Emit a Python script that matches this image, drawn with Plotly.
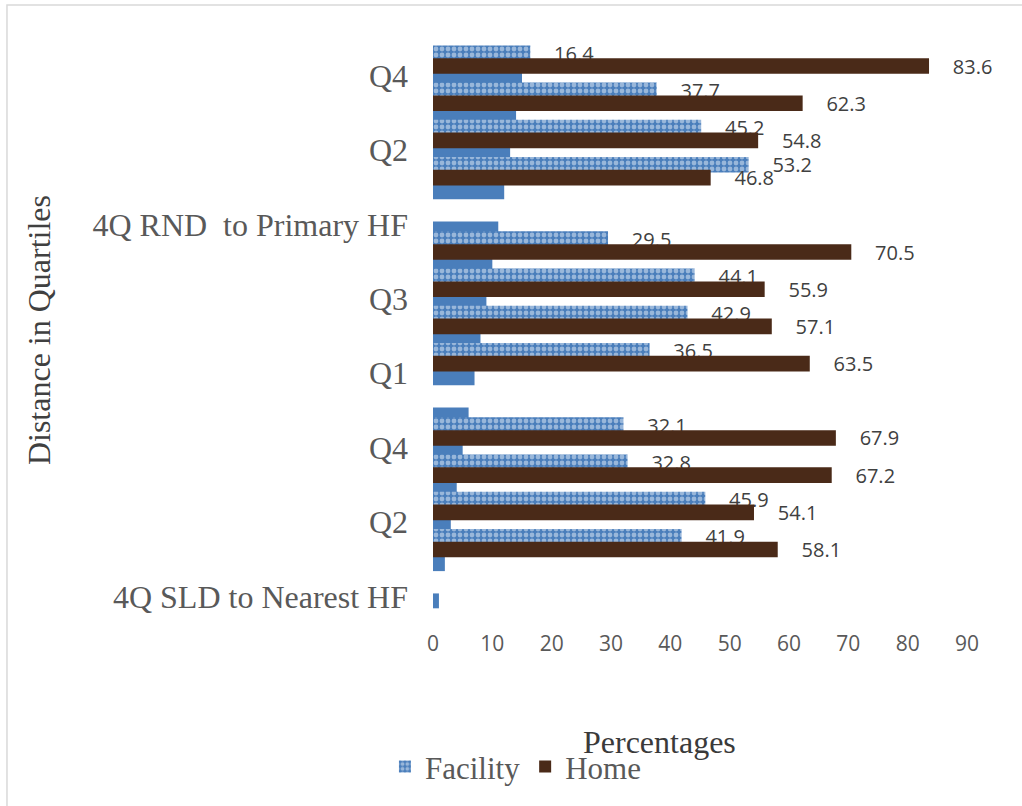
import plotly.graph_objects as go

# Categories from bottom to top; two header rows introduce each block of quartiles
categories = [
    "4Q SLD to Nearest HF", "Q1", "Q2", "Q3", "Q4",
    "4Q SLD to Primary HF", "Q1", "Q2", "Q3", "Q4",
    "4Q RND  to Primary HF", "Q1", "Q2", "Q3", "Q4",
]
facility = [None, 41.9, 45.9, 32.8, 32.1,
            None, 36.5, 42.9, 44.1, 29.5,
            None, 53.2, 45.2, 37.7, 16.4]
home = [None, 58.1, 54.1, 67.2, 67.9,
        None, 63.5, 57.1, 55.9, 70.5,
        None, 46.8, 54.8, 62.3, 83.6]
row_number = [1, 2, 3, 4, 5, 6, 7, 8, 9, 10, 11, 12, 13, 14, 15]
x_ticks = [0, 10, 20, 30, 40, 50, 60, 70, 80, 90]

positions = list(range(len(categories)))
shown_ticks = positions[::2]

SERIF = "Liberation Serif"
SANS = "Open Sans"
PAD = "\u00a0" * 4


def labels(values):
    return ["" if v is None else f"{PAD}{v:.1f}" for v in values]


fig = go.Figure()

fig.add_trace(go.Bar(
    y=positions, x=row_number, orientation="h",
    width=0.4, offset=-0.59,
    marker=dict(color="#4a7ebb", line=dict(width=0)),
    showlegend=False, hoverinfo="skip",
))

fig.add_trace(go.Bar(
    name="Facility", y=positions, x=facility, orientation="h",
    width=0.42, offset=0.125,
    marker=dict(
        color="#4f81bd",
        line=dict(width=0),
        pattern=dict(shape=".", bgcolor="#4a7ebb", fgcolor="#e8eff9",
                     size=6, solidity=0.5),
    ),
    text=labels(facility), textposition="outside", constraintext="none",
    textfont=dict(family=SANS, size=20, color="#404040"),
    cliponaxis=False, legendrank=1,
))

fig.add_trace(go.Bar(
    name="Home", y=positions, x=home, orientation="h",
    width=0.42, offset=-0.22,
    marker=dict(color="#4a2a18", line=dict(width=0)),
    text=labels(home), textposition="outside", constraintext="none",
    textfont=dict(family=SANS, size=20, color="#404040"),
    cliponaxis=False, legendrank=2,
))

fig.update_layout(
    width=1022, height=806,
    margin=dict(l=433, r=55, t=40, b=191),
    barmode="overlay",
    paper_bgcolor="white", plot_bgcolor="white",
    showlegend=True,
    legend=dict(
        orientation="h", x=-0.09, xanchor="left", y=-0.264, yanchor="middle",
        font=dict(family=SERIF, size=31, color="#595959"),
        bgcolor="rgba(0,0,0,0)",
    ),
    xaxis=dict(
        range=[0, 90], tickvals=x_ticks, showgrid=False, zeroline=False,
        showline=False, ticks="", ticklabelstandoff=14,
        tickfont=dict(family=SANS, size=21, color="#595959"),
    ),
    yaxis=dict(
        range=[-0.77, 14.69], tickvals=shown_ticks,
        ticktext=[categories[i] for i in shown_ticks],
        showgrid=False, zeroline=False, showline=False, ticks="",
        ticklabelstandoff=24, ticklabelshift=10,
        tickfont=dict(family=SERIF, size=32, color="#595959"),
    ),
    shapes=[dict(
        type="rect", xref="paper", yref="paper",
        x0=-0.7978, x1=1.14, y0=-0.36, y1=1.0609,
        line=dict(color="#d9d9d9", width=1.5), fillcolor="rgba(0,0,0,0)",
    )],
    annotations=[
        dict(text="Percentages", xref="paper", yref="paper",
             x=0.425, y=-0.256, showarrow=False,
             font=dict(family=SERIF, size=32, color="#3a3a3a")),
        dict(text="Distance in Quartiles", xref="paper", yref="paper",
             x=-0.775, y=0.4957, textangle=-90, showarrow=False,
             font=dict(family=SERIF, size=32, color="#404040")),
    ],
)

fig.write_html("out.html")
